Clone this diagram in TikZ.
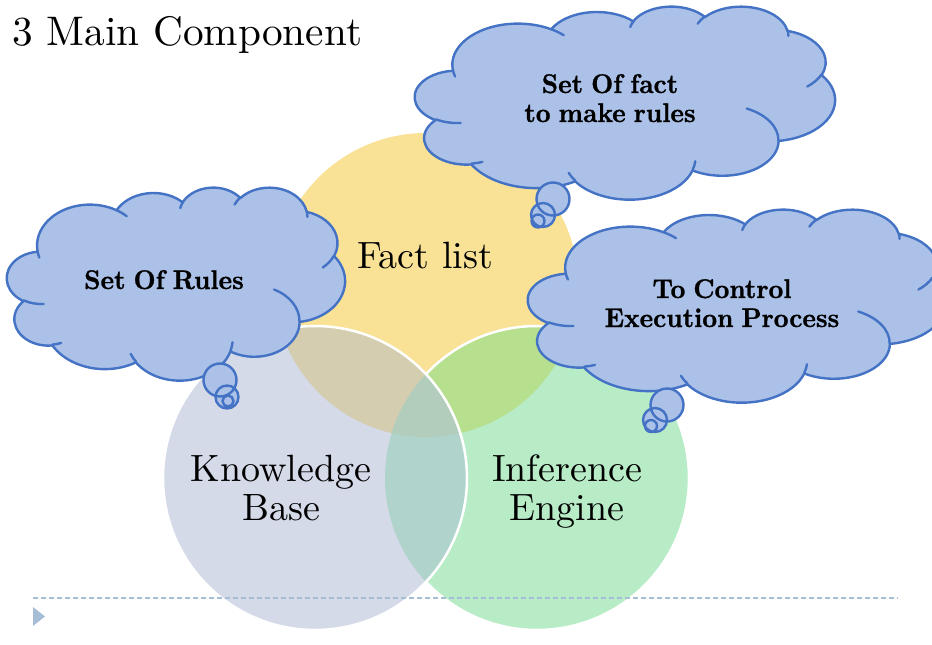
\documentclass[tikz,border=0pt]{standalone}

\definecolor{factfill}{RGB}{249,226,150}
\definecolor{basefill}{RGB}{213,218,233}
\definecolor{enginefill}{RGB}{184,236,198}
\definecolor{factbase}{RGB}{212,205,176}
\definecolor{factengine}{RGB}{182,223,142}
\definecolor{baseengine}{RGB}{176,212,204}
\definecolor{allthree}{RGB}{178,205,188}
\definecolor{notefill}{RGB}{171,193,231}
\definecolor{noteedge}{RGB}{68,114,196}
\definecolor{rulecolor}{RGB}{166,189,214}

% the 10pt design of Latin Modern, set large
\font\titlefont="[lmroman10-regular]:mapping=tex-text" at 41.3pt
\font\ringfont="[lmroman10-regular]:mapping=tex-text" at 38pt
\font\notefont="[lmroman10-bold]:mapping=tex-text;extend=0.95;embolden=1" at 27pt
\fontdimen2\notefont=8pt

\tikzset{
  cloudbody/.style={fill=notefill, draw=noteedge, line width=2.4pt, line join=round},
  cloudline/.style={draw=noteedge, line width=2.4pt, line cap=round},
  ringline/.style={draw=white, line width=2.5pt},
  notetext/.style={font={\fontsize{27}{29}\selectfont\notefont}, align=center, inner sep=0pt},
  ringtext/.style={font={\fontsize{38}{39}\selectfont\ringfont}, align=center, inner sep=0pt},
}

% cloud outline in a 43.2 x 43.2 box: #1,#2 top left corner, #3 width, #4 height
\newcommand{\thoughtcloud}[4]{%
  \begin{scope}[shift={(#1,#2)}, xscale=#3/43.2, yscale=#4/43.2]
    \filldraw[cloudbody] (3.9,14.37)
      arc[start angle=172.25, delta angle=128.11, x radius=6.753, y radius=9.19]
      arc[start angle=-152.02, delta angle=106.56, x radius=5.333, y radius=7.267]
      arc[start angle=-153.49, delta angle=116.15, x radius=4.365, y radius=5.945]
      arc[start angle=-139.71, delta angle=129.49, x radius=4.857, y radius=6.595]
      arc[start angle=-74.77, delta angle=97.99, x radius=5.333, y radius=7.273]
      arc[start angle=-37.51, delta angle=119.37, x radius=6.775, y radius=9.22]
      arc[start angle=0.46, delta angle=121.53, x radius=5.785, y radius=7.867]
      arc[start angle=16.85, delta angle=129.38, x radius=6.752, y radius=9.215]
      arc[start angle=58.98, delta angle=91.21, x radius=7.72, y radius=10.543]
      arc[start angle=83.31, delta angle=139.81, x radius=4.36, y radius=5.918]
      arc[start angle=120.36, delta angle=143.75, x radius=4.345, y radius=5.945]
      -- cycle;
    % folds inside the cloud
    \draw[cloudline]
      (4.693,26.177) arc[start angle=85.54, delta angle=34.82, x radius=4.345, y radius=5.945]
      (6.928,34.899) arc[start angle=68.23, delta angle=15.08, x radius=4.36, y radius=5.918]
      (16.478,39.09) arc[start angle=146.23, delta angle=12.24, x radius=6.752, y radius=9.215]
      (28.827,34.751) arc[start angle=4.74, delta angle=12.11, x radius=6.752, y radius=9.215]
      (34.129,22.954) arc[start angle=-64.03, delta angle=64.49, x radius=5.785, y radius=7.867]
      (41.798,15.354) arc[start angle=23.22, delta angle=26.43, x radius=5.333, y radius=7.273]
      (38.324,5.426) arc[start angle=-10.22, delta angle=11.04, x radius=4.857, y radius=6.595]
      (29.078,3.952) arc[start angle=-156.29, delta angle=16.58, x radius=4.857, y radius=6.595]
      (22.141,4.72) arc[start angle=-167.73, delta angle=14.24, x radius=4.365, y radius=5.945]
      (14,5.192) arc[start angle=-59.64, delta angle=13.88, x radius=6.753, y radius=9.19]
      (4.127,15.789) arc[start angle=163.2, delta angle=9.05, x radius=6.753, y radius=9.19];
  \end{scope}}

% three small bubbles under a cloud
\newcommand{\bubbles}[9]{%
  \fill[notefill] (#1,#2) circle (#3) (#4,#5) circle (#6) (#7,#8) circle (#9);
  \draw[cloudline] (#1,#2) circle (#3) (#4,#5) circle (#6) (#7,#8) circle (#9);}

\begin{document}
\begin{tikzpicture}[x=1pt, y=-1pt]
  \useasboundingbox (0,0) rectangle (932,645);
  \clip (0,0) rectangle (932,645);

  \coordinate (F) at (426,285);
  \coordinate (K) at (315,478);
  \coordinate (E) at (537,478);

  % fact list, then inference engine
  \fill[factfill] (F) circle (152);
  \fill[enginefill] (E) circle (152);
  \begin{scope}
    \clip (F) circle (152);
    \fill[factengine] (E) circle (152);
  \end{scope}
  \draw[ringline] (E) circle (152);

  % knowledge base on top
  \fill[basefill] (K) circle (152);
  \begin{scope}
    \clip (K) circle (152);
    \fill[factbase] (F) circle (152);
    \fill[baseengine] (E) circle (152);
    \clip (F) circle (152);
    \fill[allthree] (E) circle (152);
  \end{scope}
  \draw[ringline] (K) circle (152);

  \node[anchor=base west, inner sep=0pt, font=\titlefont] (title) at (12,45) {3 Main Component};
  \node[ringtext, anchor=base] (fact) at (425,268) {Fact list};
  \node[ringtext, anchor=base] (base) at (281,520) {Knowledge\\Base};
  \node[ringtext, anchor=base] (engine) at (567,520) {Inference\\Engine};

  % slide footer
  \draw[rulecolor, line width=1.3pt, dash pattern=on 5pt off 3pt] (33,598) -- (898,598);
  \fill[rulecolor] (33,607) -- (45,616.5) -- (33,626) -- cycle;

  % notes
  \thoughtcloud{415}{6}{420}{193}
  \bubbles{553}{199}{16.5}{543}{215}{12}{538}{221}{6.5}
  \node[notetext, anchor=base] (factnote) at (610,122) {Set Of fact\\to make rules};

  \thoughtcloud{7}{187}{338}{193}
  \bubbles{220}{380}{16.5}{227}{397}{11.5}{228}{401}{5.5}
  \node[notetext, anchor=base] (rulenote) at (164,289) {Set Of Rules};

  \thoughtcloud{528}{209}{418}{193}
  \bubbles{667}{405}{16.5}{655}{420}{12}{651}{426}{6}
  \node[notetext, anchor=base] (controlnote) at (722,327) {To Control\\Execution Process};
\end{tikzpicture}
\end{document}
